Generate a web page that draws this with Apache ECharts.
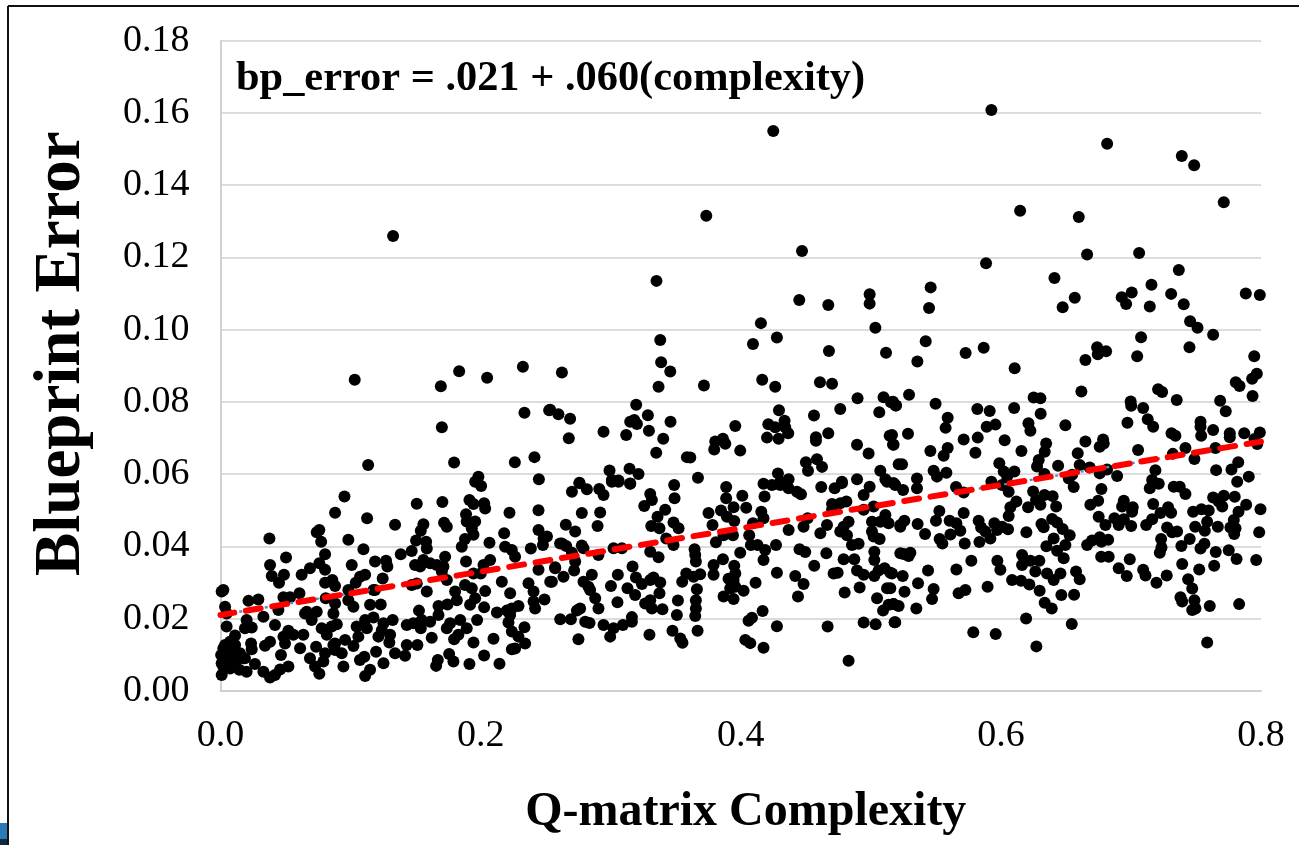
<!DOCTYPE html>
<html>
<head>
<meta charset="utf-8">
<style>
  html, body { margin: 0; padding: 0; background: #fff; }
  #chart { width: 1299px; height: 845px; }
</style>
<script src="https://cdn.jsdelivr.net/npm/echarts@6/dist/echarts.min.js"></script>
</head>
<body>
<div id="chart"></div>
<script>
// [complexity, blueprint error]
var scatterPoints = [
[.1327,.1259],[.5927,.1608],[.4250,.1550],[.6817,.1515],[.7391,.1481],[.7486,.1455],[.7714,.1353],[.6148,.1329],[.3735,.1315],[.6599,.1312],
[.4471,.1218],[.7063,.1212],[.6663,.1208],[.5886,.1184],[.7368,.1165],[.6412,.1143],[.3352,.1135],[.7158,.1124],[.5460,.1117],[.6568,.1088],
[.6475,.1062],[.6929,.1090],[.7006,.1103],[.6963,.1071],[.7145,.1064],[.7309,.1099],[.7406,.1070],[.7883,.1100],[.7991,.1096],[.5448,.1060],
[.7455,.1023],[.7512,.1005],[.7632,.0986],[.7078,.0979],[.7450,.0951],[.5422,.0968],[.5868,.0950],[.5729,.0935],[.5358,.0912],[.6106,.0893],
[.6740,.0951],[.6809,.0940],[.6745,.0932],[.6650,.0916],[.7048,.0926],[.7948,.0926],[.7968,.0878],[.7932,.0864],[.7806,.0854],[.7835,.0844],
[.7209,.0835],[.7240,.0827],[.6619,.0829],[.7935,.0816],[.5294,.0820],[.5171,.0800],[.5194,.0790],[.5498,.0795],[.6252,.0812],[.6304,.0810],
[.7352,.0805],[.7686,.0803],[.6998,.0801],[.7002,.0789],[.7094,.0783],[.7729,.0774],[.5819,.0780],[.5914,.0775],[.6102,.0783],[.6306,.0767],
[.5591,.0756],[.5575,.0728],[.5958,.0737],[.5891,.0731],[.6212,.0741],[.6227,.0720],[.6496,.0735],[.6973,.0742],[.7129,.0752],[.7171,.0731],
[.7535,.0745],[.7535,.0731],[.7632,.0722],[.7312,.0713],[.7342,.0706],[.7540,.0706],[.7760,.0713],[.7760,.0702],[.7871,.0713],[.7991,.0715],
[.7950,.0697],[.5286,.0712],[.5163,.0708],[.5714,.0696],[.5822,.0701],[.6029,.0694],[.6650,.0690],[.6786,.0696],[.5175,.0681],[.5458,.0664],
[.5560,.0651],[.5591,.0672],[.5804,.0659],[.6158,.0664],[.5240,.0627],[.5483,.0609],[.5509,.0593],[.5581,.0604],[.5175,.0575],[.5248,.0556],
[.5355,.0588],[.5355,.0561],[.5655,.0564],[.5714,.0549],[.5927,.0579],[.6009,.0570],[.6060,.0551],[.5988,.0630],[.6022,.0607],[.6104,.0607],
[.6048,.0593],[.6278,.0621],[.6291,.0639],[.6337,.0662],[.6348,.0685],[.6440,.0623],[.6335,.0600],[.6591,.0658],[.6760,.0676],[.6791,.0685],
[.7055,.0667],[.6606,.0625],[.6683,.0618],[.6760,.0602],[.6817,.0613],[.6894,.0595],[.6522,.0588],[.6560,.0564],[.6548,.0598],[.6773,.0559],
[.7188,.0611],[.7163,.0584],[.7214,.0573],[.7145,.0561],[.7322,.0656],[.7419,.0672],[.7488,.0642],[.7650,.0672],[.7655,.0611],[.7773,.0613],
[.7825,.0633],[.7817,.0579],[.7906,.0593],[.7971,.0683],[.7329,.0565],[.7375,.0565],[.7419,.0545],[.6248,.0552],[.6335,.0542],[.6398,.0539],
[.6425,.0510],[.6304,.0515],[.6270,.0528],[.6209,.0508],[.6119,.0524],[.6073,.0508],[.6060,.0484],[.5714,.0492],[.5527,.0498],[.5501,.0471],
[.5258,.0471],[.5360,.0462],[.5227,.0454],[.5417,.0434],[.5606,.0471],[.5658,.0464],[.5688,.0443],[.5612,.0433],[.5529,.0420],[.5550,.0408],
[.5722,.0408],[.5829,.0471],[.5848,.0452],[.5881,.0441],[.5919,.0422],[.5950,.0464],[.5971,.0445],[.6009,.0454],[.6055,.0447],[.5835,.0412],
[.6196,.0439],[.6312,.0462],[.6329,.0453],[.6394,.0476],[.6432,.0466],[.6475,.0448],[.6529,.0431],[.6406,.0422],[.6496,.0404],[.6350,.0400],
[.6432,.0388],[.6483,.0367],[.6163,.0376],[.6163,.0348],[.6227,.0360],[.6296,.0360],[.6265,.0330],[.6355,.0325],[.6406,.0307],[.6458,.0325],
[.6578,.0330],[.6606,.0309],[.6465,.0265],[.6563,.0266],[.6298,.0277],[.6219,.0294],[.6155,.0305],[.6086,.0307],[.5996,.0335],[.5973,.0360],
[.5773,.0360],[.5658,.0336],[.5440,.0333],[.5304,.0382],[.5252,.0379],[.5291,.0373],[.5163,.0325],[.5245,.0318],[.5363,.0298],[.5483,.0282],
[.5471,.0254],[.5259,.0274],[.5150,.0284],[.5175,.0240],[.5350,.0228],[.5188,.0190],[.5675,.0270],[.5727,.0279],[.5898,.0288],[.6337,.0244],
[.6391,.0228],[.6194,.0200],[.6545,.0185],[.6273,.0123],[.5788,.0162],[.5960,.0157],[.6688,.0515],[.6748,.0526],[.6752,.0482],[.6804,.0459],
[.6945,.0526],[.6932,.0510],[.7014,.0508],[.7009,.0496],[.6873,.0478],[.6945,.0475],[.6906,.0459],[.7002,.0456],[.7117,.0459],[.7163,.0475],
[.7227,.0492],[.7286,.0508],[.7309,.0493],[.7171,.0517],[.7278,.0452],[.7317,.0439],[.7355,.0441],[.7478,.0496],[.7542,.0503],[.7598,.0499],
[.7632,.0535],[.7714,.0540],[.7675,.0524],[.7702,.0510],[.7798,.0537],[.7886,.0515],[.7827,.0496],[.7791,.0473],[.7996,.0503],[.7986,.0439],
[.7963,.0362],[.7812,.0365],[.7752,.0389],[.7668,.0454],[.7586,.0468],[.7568,.0443],[.7494,.0454],[.7765,.0452],[.7804,.0450],[.7794,.0434],
[.7452,.0420],[.7388,.0401],[.7232,.0420],[.7235,.0397],[.7222,.0382],[.7565,.0407],[.7535,.0394],[.7652,.0384],[.7394,.0351],[.7525,.0336],
[.7640,.0346],[.7275,.0319],[.7196,.0299],[.7112,.0319],[.7094,.0335],[.6968,.0318],[.6906,.0339],[.6991,.0364],[.6771,.0371],[.6829,.0371],
[.6663,.0404],[.6701,.0416],[.6760,.0425],[.6773,.0413],[.6825,.0418],[.7440,.0309],[.7471,.0283],[.7381,.0259],[.7394,.0247],[.7488,.0251],
[.7496,.0228],[.7471,.0224],[.7606,.0235],[.7832,.0240],[.7586,.0134],
[.2702,.0551],[.2760,.0575],[.2817,.0558],[.2912,.0559],[.2945,.0542],[.3009,.0579],[.3060,.0579],[.3150,.0573],[.3304,.0545],[.3317,.0528],
[.3258,.0512],[.3488,.0570],[.3491,.0533],[.3419,.0501],[.3360,.0482],[.2778,.0492],[.2919,.0494],[.2899,.0456],[.2655,.0460],[.2727,.0441],
[.2625,.0408],[.2658,.0401],[.2778,.0402],[.3312,.0456],[.3375,.0450],[.3483,.0466],[.3522,.0450],[.3427,.0422],[.3483,.0404],[.3752,.0492],
[.3848,.0499],[.3888,.0564],[.3888,.0533],[.4012,.0540],[.3945,.0508],[.4042,.0507],[.3894,.0482],[.3950,.0470],[.3783,.0459],[.3809,.0411],
[.3868,.0431],[.3940,.0431],[.4158,.0496],[.4175,.0478],[.4094,.0464],[.4183,.0538],[.4175,.0573],[.4240,.0570],[.4304,.0570],[.4368,.0561],
[.4432,.0551],[.4463,.0544],[.4619,.0564],[.4722,.0561],[.4778,.0575],[.4991,.0565],[.4945,.0542],[.4702,.0517],[.4765,.0519],[.4812,.0524],
[.4702,.0501],[.4945,.0501],[.5022,.0510],[.5125,.0579],[.5188,.0570],[.5227,.0459],[.5112,.0487],[.5009,.0468],[.5073,.0468],[.5137,.0464],
[.5009,.0441],[.5068,.0420],[.5022,.0427],[.4829,.0468],[.4791,.0454],[.4765,.0441],[.4817,.0431],[.4663,.0459],[.4612,.0436],[.4514,.0478],
[.4483,.0454],[.4368,.0445],[.4855,.0404],[.4906,.0407],[.4271,.0404],[.4065,.0431],[.4078,.0404],[.4129,.0404],[.4188,.0390],[.4175,.0362],
[.3996,.0382],[.3863,.0364],[.4452,.0392],[.4496,.0384],[.4658,.0381],[.4791,.0364],[.4873,.0364],[.5027,.0385],[.5027,.0362],[.4565,.0346],
[.4894,.0333],[.4945,.0321],[.5027,.0318],[.5060,.0333],[.5106,.0339],[.5150,.0327],[.4714,.0325],[.4745,.0327],[.4278,.0327],[.4419,.0318],
[.4483,.0296],[.4440,.0261],[.4114,.0299],[.4022,.0277],[.3945,.0254],[.3868,.0261],[.3950,.0346],[.3958,.0325],[.3906,.0310],[.3945,.0307],
[.3919,.0284],[.3958,.0288],[.3791,.0348],[.3791,.0321],[.3688,.0323],[.3637,.0316],[.3581,.0325],[.3550,.0302],[.3645,.0392],[.3650,.0376],
[.3655,.0358],[.3304,.0385],[.3368,.0370],[.3168,.0344],[.3194,.0314],[.3055,.0321],[.3002,.0290],[.3129,.0284],[.3188,.0265],[.3240,.0296],
[.3304,.0307],[.3329,.0314],[.3381,.0300],[.3375,.0270],[.3517,.0250],[.3663,.0281],[.3655,.0251],[.3655,.0228],[.3650,.0207],[.3668,.0166],
[.3509,.0210],[.3398,.0226],[.3317,.0228],[.3265,.0242],[.3304,.0251],[.3052,.0245],[.2906,.0228],[.2881,.0256],[.2842,.0279],[.2855,.0321],
[.2791,.0302],[.2829,.0288],[.2719,.0333],[.2637,.0316],[.2548,.0302],[.2573,.0342],[.2727,.0358],[.2612,.0198],[.2694,.0198],[.2740,.0222],
[.2765,.0228],[.2804,.0191],[.2837,.0188],[.2945,.0182],[.3022,.0173],[.3094,.0182],[.3163,.0204],[.3163,.0191],[.2996,.0150],[.2752,.0143],
[.3298,.0155],[.3475,.0166],[.3535,.0145],[.3552,.0133],[.4035,.0141],[.4073,.0132],[.4175,.0119],[.4060,.0194],[.4086,.0202],[.4168,.0221],
[.4278,.0179],[.4668,.0178],[.4829,.0083],[.4945,.0189],[.5037,.0184],[.5183,.0190],[.4799,.0272],[.4914,.0286],[.5048,.0256],[.5125,.0284],
[.5094,.0222],[.5137,.0238],[.5175,.0240],[.5214,.0235],[.5227,.0381],[.2702,.0382],[.2791,.0395],[.2906,.0376],[.3022,.0395],[.3086,.0395],
[.2625,.0881],[.3388,.0910],[.3458,.0884],[.3368,.0842],[.3717,.0845],[.3381,.0971],[.4094,.0960],[.4278,.0978],[.4678,.0941],[.5117,.0936],
[.4165,.0861],[.4265,.0842],[.4609,.0854],[.4702,.0850],[.3196,.0792],[.4898,.0810],[.5098,.0813],[.5155,.0799],[.5191,.0790],[.4765,.0780],
[.5065,.0771],[.4294,.0777],[.4563,.0762],[.2535,.0778],[.2598,.0766],[.2688,.0753],[.3286,.0763],[.3150,.0745],[.3181,.0750],[.3202,.0739],
[.3460,.0745],[.2945,.0717],[.3119,.0708],[.3294,.0720],[.2678,.0699],[.3404,.0698],[.3350,.0659],[.3958,.0733],[.4212,.0738],[.4265,.0730],
[.4337,.0748],[.4342,.0730],[.4365,.0713],[.4202,.0701],[.4291,.0698],[.4673,.0713],[.4578,.0702],[.4578,.0692],[.5145,.0706],[.5171,.0682],
[.4894,.0681],[.4983,.0657],[.3804,.0690],[.3863,.0698],[.3881,.0684],[.3796,.0668],[.3996,.0665],[.3586,.0647],[.3612,.0646],[.4501,.0633],
[.4586,.0641],[.4625,.0620],[.4517,.0609],[.5214,.0627],[.2991,.0610],[.3145,.0615],[.3214,.0600],[.3009,.0584],[.3060,.0582],[.3150,.0574],
[.2760,.0576],[.3671,.0590],[.4286,.0602],[.4368,.0586],[.4304,.0579],[.4778,.0579],[.4894,.0586],[.5073,.0609],[.5112,.0586],[.5175,.0575],
[.4450,.1082],[.4673,.1068],[.4991,.1098],[.4991,.1072],[.5035,.1005],[.4155,.1018],
[.1032,.0861],[.1694,.0843],[.1835,.0885],[.2050,.0867],[.2325,.0897],[.2337,.0770],[.2527,.0777],[.1702,.0730],[.1135,.0625],[.1796,.0632],
[.2263,.0633],[.2414,.0647],[.2448,.0586],[.1983,.0593],[.1958,.0579],[.2004,.0567],
[.0953,.0538],[.0881,.0493],[.1127,.0478],[.1342,.0460],[.1509,.0518],[.1706,.0523],[.1914,.0528],[.1945,.0517],[.2027,.0519],[.2035,.0505],
[.2445,.0500],[.2222,.0493],[.1888,.0489],[.1893,.0469],[.1958,.0469],[.1932,.0450],[.1945,.0432],[.1880,.0420],[.1855,.0399],[.1719,.0465],
[.1740,.0454],[.1560,.0461],[.1540,.0443],[.1504,.0416],[.1581,.0413],[.1470,.0387],[.1586,.0394],[.1386,.0378],[.2181,.0436],[.2068,.0410],
[.2188,.0399],[.2240,.0390],[.2265,.0371],[.2386,.0394],[.2445,.0445],[.2484,.0422],[.2510,.0427],[.2479,.0404],[.2611,.0408],[.0376,.0422],
[.0504,.0369],[.0381,.0348],[.0740,.0439],[.0760,.0445],[.0774,.0413],[.0804,.0378],[.0983,.0418],[.1099,.0392],[.0760,.0353],[.0804,.0335],
[.0688,.0339],[.0624,.0321],[.1009,.0348],[.1188,.0358],[.1273,.0360],[.1283,.0344],[.1112,.0321],[.1040,.0299],[.0983,.0279],[.1176,.0279],
[.1247,.0311],[.0488,.0321],[.0394,.0318],[.0450,.0299],[.0804,.0299],[.0860,.0307],[.0881,.0290],[.0809,.0256],[.0607,.0270],[.0484,.0259],
[.0535,.0259],[.0445,.0224],[.0291,.0253],[.0215,.0249],[.0022,.0279],[.0009,.0275],[.0035,.0233],[.0047,.0214],[.0881,.0242],[.0983,.0251],
[.1022,.0233],[.1150,.0238],[.1232,.0239],[.1470,.0293],[.1586,.0275],[.1880,.0293],[.1932,.0284],[.2035,.0276],[.1804,.0275],[.1817,.0251],
[.1958,.0256],[.1919,.0238],[.1676,.0235],[.1745,.0239],[.2027,.0231],[.1526,.0222],[.2491,.0253],[.2419,.0228],[.2407,.0247],[.2368,.0298],
[.2407,.0275],[.2535,.0302],[.2445,.0335],[.2573,.0339],[.2163,.0302],[.2227,.0270],[.2291,.0235],[.2240,.0228],[.2201,.0222],[.2125,.0217],
[.2227,.0210],[.2214,.0189],[.2337,.0176],[.2240,.0164],[.2291,.0150],[.2342,.0131],[.2265,.0117],[.2240,.0115],[.2099,.0144],[.1973,.0196],
[.1945,.0134],[.2027,.0098],[.2145,.0075],[.1914,.0074],[.1791,.0081],[.1758,.0102],[.1671,.0085],[.1658,.0069],[.1624,.0147],[.1514,.0127],
[.1432,.0127],[.1419,.0097],[.1342,.0104],[.1253,.0076],[.1196,.0108],[.1150,.0058],[.1112,.0041],[.1106,.0094],[.1072,.0085],[.0945,.0067],
[.0932,.0104],[.0868,.0127],[.0958,.0141],[.1022,.0124],[.1060,.0150],[.1047,.0178],[.1112,.0196],[.1176,.0203],[.1125,.0173],[.1214,.0150],
[.1253,.0187],[.1324,.0196],[.1304,.0155],[.1298,.0134],[.1240,.0168],[.1432,.0182],[.1483,.0187],[.1547,.0196],[.1540,.0173],[.1612,.0191],
[.1676,.0210],[.1765,.0187],[.1740,.0173],[.1843,.0196],[.1893,.0173],[.1829,.0155],[.1796,.0143],[.0881,.0131],[.0804,.0104],[.0791,.0081],
[.0688,.0090],[.0727,.0067],[.0760,.0047],[.0881,.0113],[.0612,.0118],[.0735,.0122],[.0637,.0155],[.0560,.0155],[.0522,.0166],[.0484,.0150],
[.0496,.0131],[.0465,.0099],[.0419,.0182],[.0330,.0205],[.0201,.0196],[.0240,.0175],[.0188,.0173],[.0047,.0178],[.0112,.0153],[.0650,.0214],
[.0701,.0196],[.0740,.0219],[.0778,.0173],[.0817,.0155],[.0855,.0178],[.0894,.0184],[.0868,.0214],[.0381,.0136],[.0342,.0125],[.0235,.0131],
[.0240,.0115],[.0176,.0090],[.0265,.0074],[.0522,.0067],[.0458,.0059],[.0419,.0044],[.0381,.0037],[.0330,.0053],[.0201,.0053],[.0145,.0058],
[.0009,.0044],[.0073,.0062],[.0009,.0076],[.0005,.0099],[.0035,.0127],[.0073,.0136],[.0099,.0113],[.0047,.0108],[.0150,.0104],[.0124,.0085],
[.0047,.0085],[.0022,.0118],[.0086,.0090],[.0112,.0127],[.0073,.0104],[.0188,.0090],[.0022,.0067],[.1073,.0316],[.1188,.0279],[.1509,.0297],
[.1560,.0362],[.1535,.0344],[.1496,.0348],[.1612,.0353],[.1663,.0348],[.1727,.0371],[.1714,.0344],[.1702,.0330],[.1740,.0307],[.1888,.0358],
[.1945,.0325],[.2001,.0325],[.2022,.0348],[.2073,.0362],[.0663,.0219]
]

// fitted line: bp_error = .021 + .060(complexity)
var trendX = [0, 0.8]
var trendY = [0.021, 0.069]

var xAxisTitle = 'Q-matrix Complexity'
var yAxisTitle = 'Blueprint Error'
var equationText = 'bp_error = .021 + .060(complexity)'

var serif = '"Liberation Serif", "Times New Roman", serif'
var trendData = trendX.map(function (x, i) { return [x, trendY[i]] })

var chart = echarts.init(document.getElementById('chart'), null, { renderer: 'canvas' })
chart.setOption({
  animation: false,
  backgroundColor: '#fff',
  textStyle: { fontFamily: serif },
  // v6 shrinks the grid to fit the axis names unless told not to
  grid: { left: 220.5, right: 38, top: 40.7, bottom: 154.2, containLabel: false, outerBoundsMode: 'none' },
  xAxis: {
    type: 'value',
    min: 0,
    max: 0.8,
    interval: 0.2,
    name: xAxisTitle,
    nameLocation: 'middle',
    nameGap: 98,
    nameTextStyle: { fontFamily: serif, fontWeight: 'bold', fontSize: 48, color: '#000', padding: [0, 0, 0, 10] },
    axisLine: { show: true, lineStyle: { color: '#d0d0d0', width: 2 } },
    axisTick: { show: false },
    splitLine: { show: false },
    axisLabel: {
      margin: 26,
      color: '#000',
      fontFamily: serif,
      fontSize: 38,
      formatter: function (v) { return v.toFixed(1) }
    }
  },
  yAxis: {
    type: 'value',
    min: 0,
    max: 0.18,
    interval: 0.02,
    name: yAxisTitle,
    nameLocation: 'middle',
    nameGap: 126,
    nameRotate: 90,
    nameTextStyle: { fontFamily: serif, fontWeight: 'bold', fontSize: 65, color: '#000', padding: [0, 0, 0, 24] },
    axisLine: { show: true, lineStyle: { color: '#d0d0d0', width: 2 } },
    axisTick: { show: false },
    splitLine: { show: true, lineStyle: { color: '#dcdcdc', width: 2 } },
    axisLabel: {
      margin: 31,
      padding: [6, 0, 0, 0],
      color: '#000',
      fontFamily: serif,
      fontSize: 38,
      formatter: function (v) { return v.toFixed(2) }
    }
  },
  series: [
    {
      name: 'points',
      type: 'scatter',
      data: scatterPoints,
      symbol: 'circle',
      symbolSize: 12,
      clip: false,
      itemStyle: { color: '#000', opacity: 1 },
      z: 2
    },
    {
      // thin dotted trendline that shows through the gaps of the red one
      name: 'trend dots',
      type: 'line',
      data: trendData,
      showSymbol: false,
      clip: false,
      lineStyle: { color: '#5b8bc6', width: 2.5, type: [3, 22.85], dashOffset: 6.85 },
      z: 3
    },
    {
      name: 'trend',
      type: 'line',
      data: trendData,
      showSymbol: false,
      clip: true,
      lineStyle: { color: '#ff0000', width: 6, type: [15, 11.7], dashOffset: 1, cap: 'round' },
      z: 4
    }
  ],
  graphic: [
    {
      type: 'text',
      left: 236,
      top: 58,
      z: 10,
      style: { text: equationText, fill: '#000', font: 'bold 42.4px ' + serif }
    },
    // screenshot frame and the sliver of desktop in the corner
    { type: 'line', z: 10, shape: { x1: 8, y1: 6, x2: 1299, y2: 6 }, style: { stroke: '#111', lineWidth: 2 } },
    { type: 'line', z: 10, shape: { x1: 8, y1: 6, x2: 8, y2: 845 }, style: { stroke: '#111', lineWidth: 2 } },
    { type: 'rect', z: 10, shape: { x: 0, y: 823, width: 7, height: 16 }, style: { fill: '#2a7ab8' } },
    { type: 'rect', z: 10, shape: { x: 0, y: 839, width: 7, height: 6 }, style: { fill: '#12283f' } }
  ]
})
</script>
</body>
</html>
